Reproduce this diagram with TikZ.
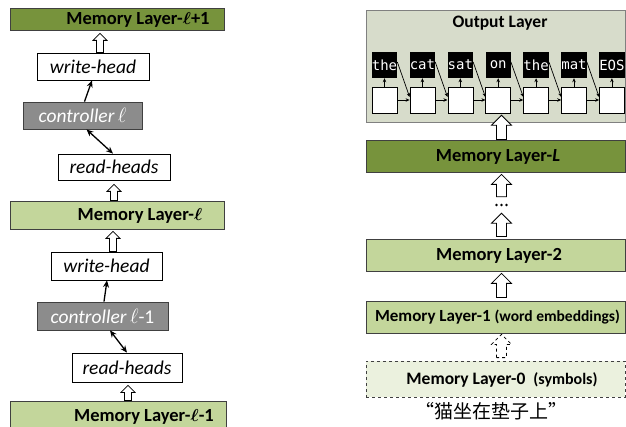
\documentclass[tikz,border=0pt]{standalone}
\usepackage{fontspec}
\setmainfont{Carlito}
\newfontfamily\cjkfont{Noto Sans CJK SC}
\newfontfamily\wordmono{DejaVu Sans Mono}
\usetikzlibrary{arrows.meta,calc}
\definecolor{dkgreen}{HTML}{77933C}
\definecolor{ltgreen}{HTML}{C3D69B}
\definecolor{palegreen}{HTML}{EBF1DE}
\definecolor{outbg}{HTML}{D7DCCB}
\definecolor{ctrlgray}{HTML}{8C8C8C}
\definecolor{edgegray}{HTML}{404040}
\tikzset{
  layerbox/.style={draw=edgegray, line width=0.8pt, inner sep=0pt},
  darklayer/.style={layerbox, fill=dkgreen},
  lightlayer/.style={layerbox, fill=ltgreen},
  headbox/.style={draw=black, line width=0.8pt, fill=white, inner sep=0pt,
    font=\fontsize{19.5}{21}\selectfont\itshape},
  ctrlbox/.style={draw=edgegray, line width=0.8pt, fill=ctrlgray, inner sep=0pt,
    text=white, font=\fontsize{19.5}{21}\selectfont},
  layertext/.style={inner sep=0pt, font=\fontsize{18.5}{20}\selectfont\bfseries},
  wordbox/.style={fill=black, text=white, inner sep=0pt, minimum width=25pt,
    minimum height=26pt, font=\wordmono\fontsize{14}{15}\selectfont},
  cellbox/.style={draw=black, line width=0.6pt, fill=white, inner sep=0pt,
    minimum width=25pt, minimum height=26pt},
  ptr/.style={line width=1.3pt, -{Stealth[length=7pt,width=6pt]}},
  dptr/.style={line width=1.3pt, {Stealth[length=7pt,width=6pt]}-{Stealth[length=7pt,width=6pt]}},
  sptr/.style={line width=0.7pt, -{Stealth[length=4pt,width=3.5pt]}},
  hollow/.style={draw=black, line width=0.8pt, fill=white, line join=miter},
}
% #1 options, #2 start (base) point, #3 end (tip) point, #4 half shaft, #5 half head, #6 head length
\newcommand\hollowup[6][]{%
  \draw[hollow,#1] let \p1=#2, \p2=#3 in
    ({\x1-#4},{\y1}) -- ({\x1-#4},{\y2-#6}) -- ({\x1-#5},{\y2-#6}) -- ({\x1},{\y2})
    -- ({\x1+#5},{\y2-#6}) -- ({\x1+#4},{\y2-#6}) -- ({\x1+#4},{\y1}) -- cycle;}
\begin{document}
\begin{tikzpicture}[x=1pt,y=-1pt]
\clip (0,0) rectangle (626,427);
\fill[white] (0,0) rectangle (626,427);

% ---------- left column ----------
\node[darklayer, minimum width=214pt, minimum height=22pt] (mlp1) at (117,19) {};
\node[layertext] (mlp1t) at (138,19.5) {Memory Layer-{\boldmath$\ell$}+1};
\node[headbox, minimum width=112pt, minimum height=27pt] (wh1) at (93,66.5) {write-head};
\node[ctrlbox, minimum width=119pt, minimum height=27pt] (c1) at (82.5,115.5) {\textit{controller}\,$\ell$};
\node[headbox, minimum width=112pt, minimum height=26pt] (rh1) at (114,167) {read-heads};
\node[lightlayer, minimum width=214pt, minimum height=28pt] (ml) at (117,215) {};
\node[layertext] (mlt) at (140,215.5) {Memory Layer-{\boldmath$\ell$}};
\node[headbox, minimum width=111pt, minimum height=28pt] (wh2) at (106.5,266) {write-head};
\node[ctrlbox, minimum width=131pt, minimum height=28pt] (c2) at (102.5,316) {\textit{controller}\,$\ell$-1};
\node[headbox, minimum width=110pt, minimum height=29pt] (rh2) at (127,367.5) {read-heads};
\node[lightlayer, minimum width=216pt, minimum height=36pt] (mlm1) at (118,419) {};
\node[layertext] (mlm1t) at (144,416.5) {Memory Layer-{\boldmath$\ell$}-1};

\hollowup{([xshift=7pt]wh1.north)}{([yshift=-3pt]mlp1.south)}{3.5pt}{7pt}{7pt}
\hollowup{([xshift=-3pt]ml.north)}{([yshift=-4pt]rh1.south)}{3.5pt}{7pt}{7pt}
\hollowup{([xshift=6.5pt]wh2.north)}{([yshift=-2pt]ml.south)}{3.5pt}{7pt}{7pt}
\hollowup{([xshift=10pt]mlm1.north)}{([yshift=-3pt]rh2.south)}{3.5pt}{7pt}{7pt}

\draw[ptr] ([xshift=2pt]c1.north) -- ([xshift=-1pt]wh1.south);
\draw[dptr] ([xshift=4pt]c1.south) -- ([xshift=-1pt]rh1.north);
\draw[ptr] ([xshift=1.5pt]c2.north) -- ([xshift=0.5pt]wh2.south);
\draw[dptr] ([xshift=7.5pt]c2.south) -- (rh2.north);

% ---------- right column ----------
\node[draw=gray, line width=0.8pt, fill=outbg, minimum width=259pt, minimum height=112pt, inner sep=0pt] (out) at (495.5,66) {};
\node[layertext, font=\fontsize{17.5}{20}\selectfont\bfseries] (outt) at (500,23) {Output Layer};
\foreach \w [count=\i] in {the,cat,sat,on,the,mat,EOS}{
  \node[wordbox] (ob\i) at ({384.5+37.9*(\i-1)},65) {\w};
  \node[cellbox] (ow\i) at ({384.5+37.9*(\i-1)},100) {};
  \draw[sptr] (ow\i) -- (ob\i);
}
\foreach \i [evaluate=\i as \j using int(\i+1)] in {1,...,6}{
  \draw[sptr] (ow\i) -- (ow\j);
  \draw[sptr] ([yshift=3pt]ob\i.east) -- ([yshift=3pt]ow\j.west);
}

\node[darklayer, minimum width=259pt, minimum height=32pt] (mlL) at (495.5,156) {};
\node[layertext] (mlLt) at (498,156.5) {Memory Layer-\textit{L}};
\node[inner sep=0pt, minimum height=16pt, minimum width=16pt] (dots) at (501.5,205) {};
\foreach \dx in {-5,0,5} \fill ([xshift=\dx pt]dots.center) circle (1.4pt);
\node[lightlayer, minimum width=259pt, minimum height=32pt] (ml2) at (495.5,255) {};
\node[layertext] (ml2t) at (499,255.5) {Memory Layer-2};
\node[lightlayer, minimum width=259pt, minimum height=32pt] (ml1) at (495.5,317) {};
\node[layertext, font=\fontsize{17}{19}\selectfont\bfseries] (ml1t) at (497.5,317.5) {Memory Layer-1 {\fontsize{15.5}{17}\selectfont(word embeddings)}};
\node[layerbox, dashed, fill=palegreen, minimum width=259pt, minimum height=36pt] (ml0) at (495.5,379) {};
\node[layertext, font=\fontsize{17.5}{19}\selectfont\bfseries] (ml0t) at (502,379.5) {Memory Layer-0\ \ {\fontsize{16}{17}\selectfont(symbols)}};
\node[inner sep=0pt, font=\cjkfont\fontsize{19}{21}\selectfont] (zh) at (491,411) {“猫坐在垫子上”};

\hollowup{([xshift=6pt]mlL.north)}{([yshift=-2pt]ow4.south)}{5pt}{10pt}{10pt}
\hollowup{(dots.north)}{([yshift=-2pt]mlL.south)}{5pt}{10pt}{10pt}
\hollowup{([xshift=6pt,yshift=2pt]ml2.north)}{(dots.south)}{5pt}{10pt}{10pt}
\hollowup{([xshift=6pt,yshift=3pt]ml1.north)}{([yshift=-2pt]ml2.south)}{5pt}{10pt}{10pt}
\hollowup[dashed]{([xshift=6pt,yshift=3pt]ml0.north)}{([yshift=-1pt]ml1.south)}{5pt}{10pt}{10pt}
\end{tikzpicture}
\end{document}
